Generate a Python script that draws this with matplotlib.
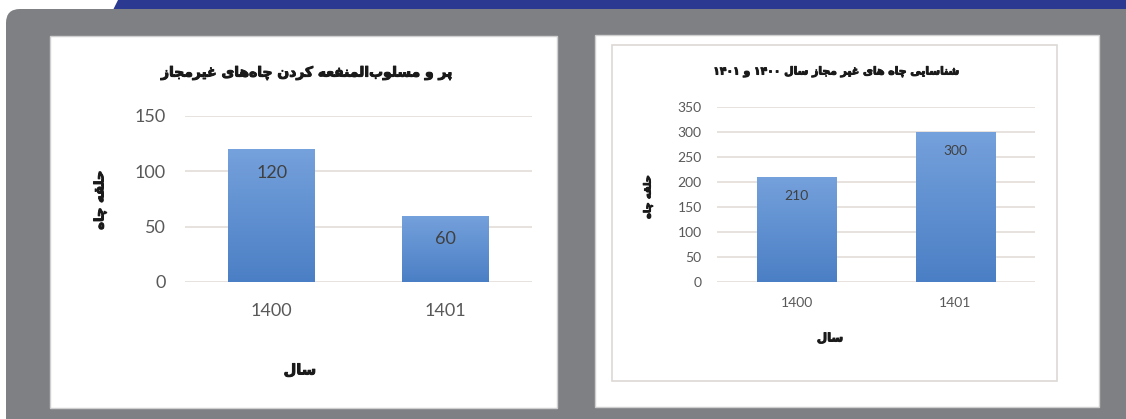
import re
import numpy as np
import matplotlib
matplotlib.use("Agg")
import matplotlib.pyplot as plt
import matplotlib.patheffects as pe
from matplotlib.patches import Rectangle, Polygon, FancyBboxPatch
from matplotlib.colors import LinearSegmentedColormap

# data
years = ["1400", "1401"]
filled_wells = [120, 60]          # left chart
found_wells = [210, 300]          # right chart
left_yticks = [0, 50, 100, 150]
right_yticks = [0, 50, 100, 150, 200, 250, 300, 350]

left_title = "پر و مسلوب\u200cالمنفعه کردن چاه\u200cهای غیرمجاز"
right_title = "شناسایی چاه های غیر مجاز سال ۱۴۰۰ و ۱۴۰۱"
ylabel_txt = "حلقه چاه"
xlabel_txt = "سال"

# minimal arabic/persian shaping: (isolated, final, initial, medial)
FORMS = {
    "\u0627": ("\uFE8D", "\uFE8E", None, None),
    "\u0628": ("\uFE8F", "\uFE90", "\uFE91", "\uFE92"),
    "\u062C": ("\uFE9D", "\uFE9E", "\uFE9F", "\uFEA0"),
    "\u062D": ("\uFEA1", "\uFEA2", "\uFEA3", "\uFEA4"),
    "\u062F": ("\uFEA9", "\uFEAA", None, None),
    "\u0631": ("\uFEAD", "\uFEAE", None, None),
    "\u0632": ("\uFEAF", "\uFEB0", None, None),
    "\u0633": ("\uFEB1", "\uFEB2", "\uFEB3", "\uFEB4"),
    "\u0634": ("\uFEB5", "\uFEB6", "\uFEB7", "\uFEB8"),
    "\u0639": ("\uFEC9", "\uFECA", "\uFECB", "\uFECC"),
    "\u063A": ("\uFECD", "\uFECE", "\uFECF", "\uFED0"),
    "\u0641": ("\uFED1", "\uFED2", "\uFED3", "\uFED4"),
    "\u0642": ("\uFED5", "\uFED6", "\uFED7", "\uFED8"),
    "\u0644": ("\uFEDD", "\uFEDE", "\uFEDF", "\uFEE0"),
    "\u0645": ("\uFEE1", "\uFEE2", "\uFEE3", "\uFEE4"),
    "\u0646": ("\uFEE5", "\uFEE6", "\uFEE7", "\uFEE8"),
    "\u0647": ("\uFEE9", "\uFEEA", "\uFEEB", "\uFEEC"),
    "\u0648": ("\uFEED", "\uFEEE", None, None),
    "\u06CC": ("\uFBFC", "\uFBFD", "\uFBFE", "\uFBFF"),
    "\u067E": ("\uFB56", "\uFB57", "\uFB58", "\uFB59"),
    "\u0686": ("\uFB7A", "\uFB7B", "\uFB7C", "\uFB7D"),
    "\u06A9": ("\uFB8E", "\uFB8F", "\uFB90", "\uFB91"),
}


def fa(text):
    out = []
    for i, c in enumerate(text):
        if c not in FORMS:
            out.append(c)
            continue
        prev = text[i - 1] if i > 0 else None
        nxt = text[i + 1] if i + 1 < len(text) else None
        jp = prev in FORMS and FORMS[prev][2] is not None
        jn = nxt in FORMS and FORMS[c][2] is not None
        iso, fin, ini, med = FORMS[c]
        out.append(med if jp and jn else fin if jp else ini if jn else iso)
    s = "".join(out).replace("\u200c", "")[::-1]
    return re.sub(r"[0-9\u06F0-\u06F9]+", lambda m: m.group(0)[::-1], s)


W, H = 1126, 419
fig = plt.figure(figsize=(W / 100, H / 100), dpi=100)
fig.patch.set_facecolor("white")

# background in pixel coordinates
bg = fig.add_axes([0, 0, 1, 1], zorder=-5)
bg.set_xlim(0, W)
bg.set_ylim(H, 0)
bg.axis("off")
bg.add_patch(Polygon([(118, 0), (W, 0), (W, 10), (113, 10)], closed=True,
                     color="#2b3990", lw=0))
bg.add_patch(FancyBboxPatch((6, 9), W + 30, H + 30,
                            boxstyle="round,pad=0,rounding_size=14",
                            fc="#7f8084", ec="none"))
bg.add_patch(Rectangle((50, 36), 507, 372, fc="white", ec="#cfcfcf", lw=1))
bg.add_patch(Rectangle((595, 35), 504, 372, fc="white", ec="#cfcfcf", lw=1))
bg.add_patch(Rectangle((612, 45), 445, 336, fc="none", ec="#dcd8d5", lw=1.2))

bar_cmap = LinearSegmentedColormap.from_list("bar", ["#4b7fc5", "#75a1dc"])
heavy = [pe.withStroke(linewidth=0.7, foreground="#1a1a1a")]
ar_font = dict(family="DejaVu Sans", fontweight="bold", color="#1a1a1a", path_effects=heavy)
num_font = "Lato"


def px_axes(x0, y0, x1, y1):
    return fig.add_axes([x0 / W, 1 - y1 / H, (x1 - x0) / W, (y1 - y0) / H])


def bar_chart(ax, values, yticks, fs, pad, lab_off, xpad):
    x = np.arange(len(years))
    bars = ax.bar(x, values, width=0.5, color="#5b8bd0", zorder=2)
    grad = np.linspace(0, 1, 100).reshape(-1, 1)
    for b in bars:
        im = ax.imshow(grad, extent=[b.get_x(), b.get_x() + b.get_width(), 0, b.get_height()],
                       origin="lower", aspect="auto", cmap=bar_cmap, zorder=3)
        im.set_clip_path(b)
    for xi, v in zip(x, values):
        ax.annotate(str(v), (xi, v), xytext=(0, -lab_off), textcoords="offset points",
                    ha="center", va="center", fontsize=fs, color="#404040", family=num_font,
                    zorder=4)
    ax.set_xlim(-0.5, len(years) - 0.5)
    ax.set_ylim(0, yticks[-1])
    ax.set_yticks(yticks)
    ax.set_xticks(x, years)
    ax.set_axisbelow(True)
    ax.grid(axis="y", color="#e2dad6", lw=1.1)
    for s in ax.spines.values():
        s.set_visible(False)
    ax.tick_params(length=0, labelsize=fs, labelcolor="#595959")
    ax.tick_params(axis="y", pad=pad)
    ax.tick_params(axis="x", pad=xpad)
    for t in ax.get_xticklabels() + ax.get_yticklabels():
        t.set_family(num_font)
    ax.set_facecolor("none")


ax1 = px_axes(185, 116, 532, 282)
bar_chart(ax1, filled_wells, left_yticks, 13, 14, 17, 15)
ax2 = px_axes(717, 107, 1035, 282)
bar_chart(ax2, found_wells, right_yticks, 10, 11, 14, 11)

# titles and axis labels
bg.text(307, 73, fa(left_title), ha="center", va="center", fontsize=10, **ar_font)
bg.text(836, 72, fa(right_title), ha="center", va="center", fontsize=7.8, **ar_font)
bg.text(100, 200, fa(ylabel_txt), ha="center", va="center", rotation=90, fontsize=9.5, **ar_font)
bg.text(648, 197, fa(ylabel_txt), ha="center", va="center", rotation=90, fontsize=7, **ar_font)
bg.text(300, 370, fa(xlabel_txt), ha="center", va="center", fontsize=10.5, **ar_font)
bg.text(830, 338, fa(xlabel_txt), ha="center", va="center", fontsize=8.5, **ar_font)

fig.savefig("out.png", dpi=100)
